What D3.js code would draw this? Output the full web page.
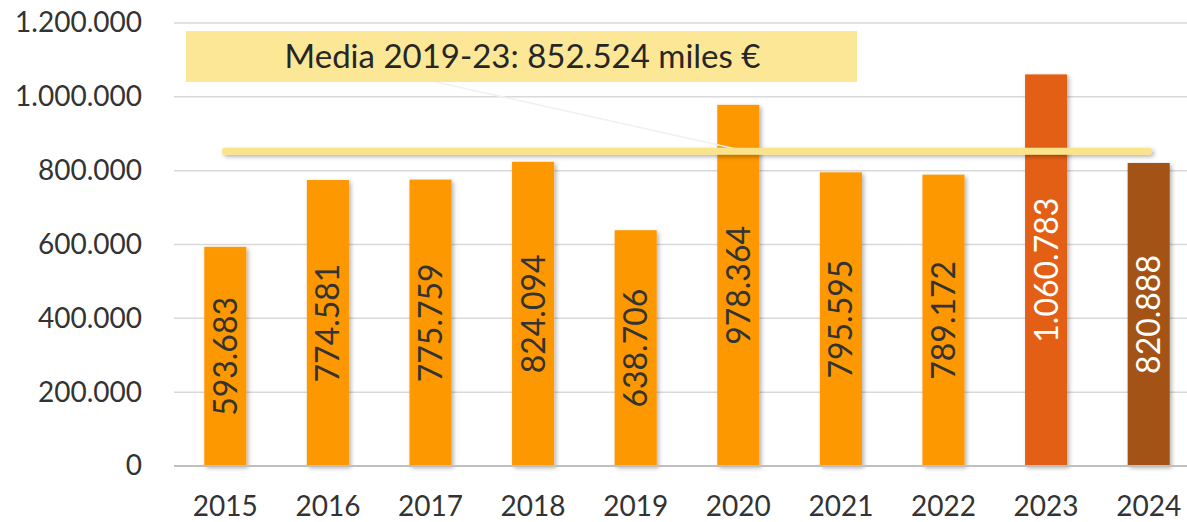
<!DOCTYPE html>
<html>
<head>
<meta charset="utf-8">
<script src="https://cdn.jsdelivr.net/npm/d3@7"></script>
<style>
  html, body { margin: 0; padding: 0; background: #fff; }
  svg { display: block; font-family: Lato, "Noto Sans", sans-serif; }
</style>
</head>
<body>
<svg id="chart" width="1187" height="522"></svg>
<script>
// data
const years = ['2015', '2016', '2017', '2018', '2019', '2020', '2021', '2022', '2023', '2024'];
const amounts = [593683, 774581, 775759, 824094, 638706, 978364, 795595, 789172, 1060783, 820888];
const barColors = ['#fd9801', '#fd9801', '#fd9801', '#fd9801', '#fd9801', '#fd9801', '#fd9801', '#fd9801', '#e35f12', '#a35214'];
const labelColors = ['#333', '#333', '#333', '#333', '#333', '#333', '#333', '#333', '#fff', '#fff'];
const yTicks = [0, 200000, 400000, 600000, 800000, 1000000, 1200000];
const meanYears = ['2019', '2020', '2021', '2022', '2023'];
const meanLabel = 'Media 2019-23: 852.524 miles €';

const width = 1187, height = 522;
const margin = {top: 23, bottom: 56, left: 174};
// plot area runs a bit past the right edge of the picture (cropped)
const plotRight = 1200;

const locale = d3.formatLocale({decimal: ',', thousands: '.', grouping: [3], currency: ['', '€']});
const fmt = locale.format(',d');

const svg = d3.select('#chart');

// soft drop shadow used by bars and mean line (user space so the flat line still gets it)
const defs = svg.append('defs');
const shadow = defs.append('filter').attr('id', 'shadow')
    .attr('filterUnits', 'userSpaceOnUse')
    .attr('x', 0).attr('y', 0).attr('width', width).attr('height', height);
shadow.append('feDropShadow')
    .attr('dx', 2).attr('dy', 2).attr('stdDeviation', 2)
    .attr('flood-color', '#000').attr('flood-opacity', 0.3);

const x = d3.scaleBand()
    .domain(years)
    .range([margin.left, plotRight])
    .paddingInner(0.59)
    .paddingOuter(0.295);

const y = d3.scaleLinear()
    .domain([0, 1200000])
    .range([height - margin.bottom, margin.top]);

// gridlines
svg.append('g')
    .selectAll('line')
    .data(yTicks.slice(1))
    .join('line')
    .attr('x1', margin.left).attr('x2', width)
    .attr('y1', d => y(d)).attr('y2', d => y(d))
    .attr('stroke', '#d9d9d9').attr('stroke-width', 1.5);

// y axis labels
const yAxis = svg.append('g')
    .attr('transform', `translate(${margin.left - 32},0)`)
    .call(d3.axisLeft(y).tickValues(yTicks).tickFormat(fmt).tickSize(0).tickPadding(0));
yAxis.select('.domain').remove();
yAxis.selectAll('text')
    .attr('font-size', 28).attr('fill', '#333').attr('font-family', 'Lato, sans-serif');

// bars
svg.append('g')
    .selectAll('rect')
    .data(amounts)
    .join('rect')
    .attr('x', (d, i) => x(years[i]))
    .attr('y', d => y(d))
    .attr('width', x.bandwidth())
    .attr('height', d => y(0) - y(d))
    .attr('fill', (d, i) => barColors[i])
    .attr('filter', 'url(#shadow)');

// baseline
svg.append('line')
    .attr('x1', margin.left).attr('x2', width)
    .attr('y1', y(0)).attr('y2', y(0))
    .attr('stroke', '#bfbfbf').attr('stroke-width', 2);

// x axis labels
const xAxis = svg.append('g')
    .attr('transform', `translate(0,${y(0)})`)
    .call(d3.axisBottom(x).tickSize(0).tickPadding(30));
xAxis.select('.domain').remove();
xAxis.selectAll('text')
    .attr('font-size', 28).attr('fill', '#333').attr('font-family', 'Lato, sans-serif');

// value labels, rotated and centered in the bar
svg.append('g')
    .selectAll('text')
    .data(amounts)
    .join('text')
    .attr('transform', (d, i) => {
        const cx = x(years[i]) + x.bandwidth() / 2;
        const cy = (y(d) + y(0)) / 2;
        return `translate(${cx},${cy}) rotate(-90)`;
    })
    .attr('text-anchor', 'middle')
    .attr('dy', '0.36em')
    .attr('font-size', 32)
    .attr('fill', (d, i) => labelColors[i])
    .text(d => fmt(d));

// mean 2019-23
const meanValue = d3.mean(meanYears, yr => amounts[years.indexOf(yr)]);
const meanY = y(meanValue);
const x0 = x(years[0]) + x.bandwidth() / 2;
const x1 = x(years[years.length - 1]) + x.bandwidth() / 2;
const anchorX = x('2020') + x.bandwidth() / 2;

// annotation box + leader line
const box = {x: 186, y: 31, w: 671, h: 51};
svg.append('line')
    .attr('x1', 436).attr('y1', box.y + box.h)
    .attr('x2', anchorX + 8).attr('y2', meanY)
    .attr('stroke', '#f0f0f0').attr('stroke-width', 1.5);

svg.append('line')
    .attr('x1', x0).attr('x2', x1)
    .attr('y1', meanY).attr('y2', meanY)
    .attr('stroke', '#fbe38c').attr('stroke-width', 7)
    .attr('stroke-linecap', 'round')
    .attr('filter', 'url(#shadow)');

svg.append('rect')
    .attr('x', box.x).attr('y', box.y)
    .attr('width', box.w).attr('height', box.h)
    .attr('fill', '#fbe796');

svg.append('text')
    .attr('x', box.x + box.w / 2 + 1)
    .attr('y', box.y + box.h / 2)
    .attr('dy', '0.36em')
    .attr('text-anchor', 'middle')
    .attr('font-size', 33)
    .attr('fill', '#262626')
    .text(meanLabel);
</script>
</body>
</html>
